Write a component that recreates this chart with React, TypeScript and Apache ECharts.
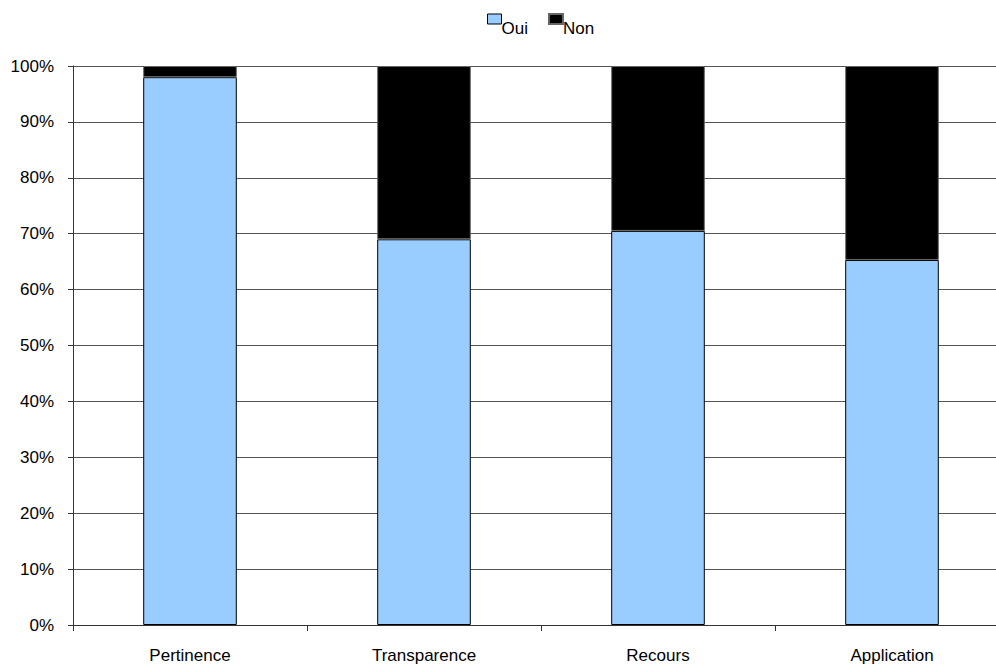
import React, { useEffect, useRef } from "react";
import * as echarts from "echarts";

const categories = ["Pertinence", "Transparence", "Recours", "Application"];
const oui = [98, 69, 70.5, 65.3];
const non = [2, 31, 29.5, 34.7];
const FONT = "'Liberation Sans', Arial, sans-serif";

export default function App() {
  const ref = useRef<HTMLDivElement>(null);
  useEffect(() => {
    if (!ref.current) return;
    const chart = echarts.init(ref.current, null, { renderer: "svg" });
    chart.setOption({
      animation: false,
      backgroundColor: "#ffffff",
      textStyle: { fontFamily: FONT },
      legend: {
        top: 1,
        left: 487,
        itemWidth: 14,
        itemHeight: 10,
        itemGap: 20,
        icon: "rect",
        padding: 0,
        formatter: "{t|{name}}",
        textStyle: {
          fontFamily: FONT,
          fontSize: 17,
          color: "#000",
          rich: {
            t: {
              fontFamily: FONT,
              fontSize: 17,
              lineHeight: 17,
              color: "#000",
              padding: [19, 0, 0, -5],
            },
          },
        },
        data: [
          { name: "Oui", itemStyle: { color: "#99ccff", borderColor: "#000", borderWidth: 1 } },
          { name: "Non", itemStyle: { color: "#000" } },
        ],
      },
      grid: { left: 73, width: 936, top: 66, height: 559, containLabel: false },
      xAxis: {
        type: "category",
        data: categories,
        axisLine: { show: true, lineStyle: { color: "#333", width: 1 } },
        axisTick: { show: true, alignWithLabel: false, length: 6, lineStyle: { color: "#333" } },
        axisLabel: { fontFamily: FONT, fontSize: 17, color: "#000", margin: 22 },
      },
      yAxis: {
        type: "value",
        min: 0,
        max: 100,
        interval: 10,
        axisLine: { show: true, lineStyle: { color: "#333", width: 1 } },
        axisTick: { show: true, length: 5, lineStyle: { color: "#333" } },
        splitLine: { show: true, lineStyle: { color: "#555", width: 1 } },
        axisLabel: { fontFamily: FONT, fontSize: 17, color: "#000", margin: 19, formatter: "{value}%" },
      },
      series: [
        {
          name: "Oui",
          type: "bar",
          stack: "total",
          barWidth: "40%",
          data: oui,
          itemStyle: { color: "#99ccff", borderColor: "#000", borderWidth: 1 },
        },
        {
          name: "Non",
          type: "bar",
          stack: "total",
          barWidth: "40%",
          data: non,
          itemStyle: { color: "#000", borderColor: "#666", borderWidth: 1 },
        },
      ],
    });
    return () => chart.dispose();
  }, []);
  return (
    <div style={{ width: 996, height: 665, position: "absolute", left: 0, top: 0, overflow: "hidden" }}>
      <div ref={ref} style={{ width: 1012, height: 665 }} />
    </div>
  );
}
